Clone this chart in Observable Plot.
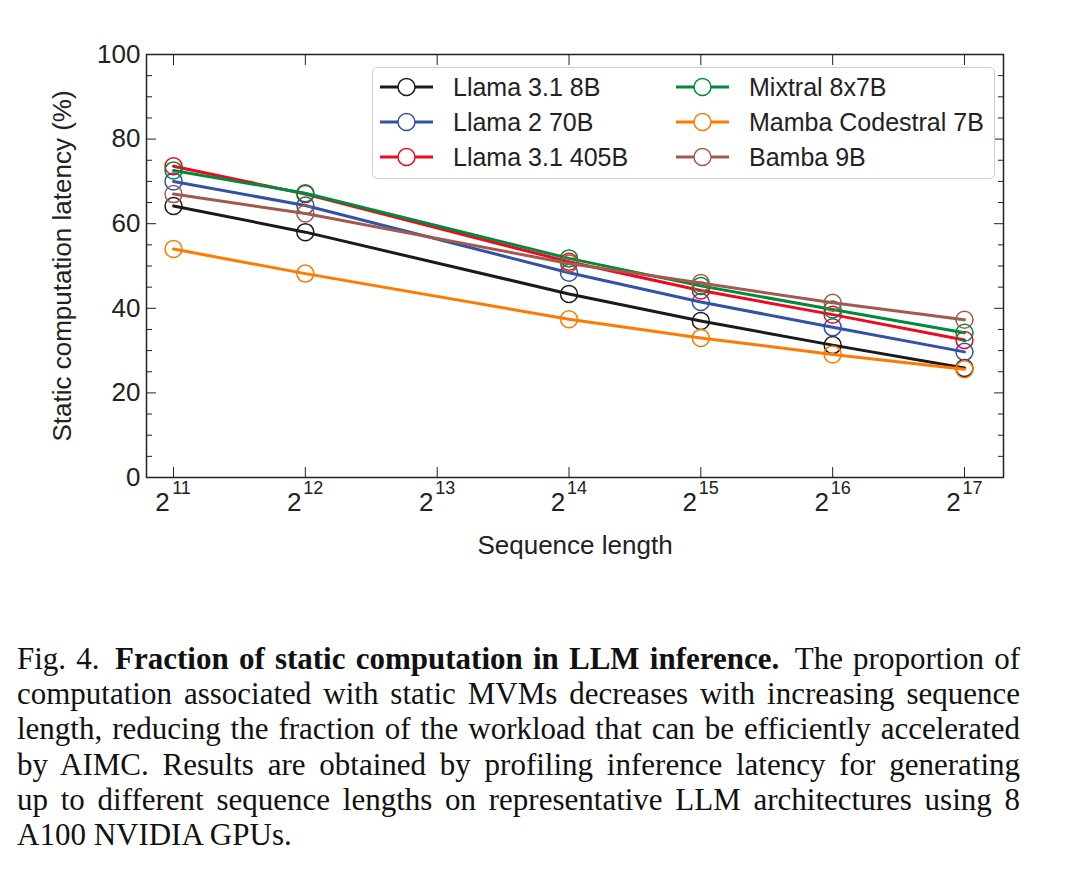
<!DOCTYPE html>
<html><head><meta charset="utf-8">
<script src="https://cdn.jsdelivr.net/npm/d3@7"></script>
<script src="https://cdn.jsdelivr.net/npm/@observablehq/plot@0.6"></script>
<style>
body{margin:0;background:#fff;width:1068px;height:896px;position:relative;overflow:hidden;font-family:"Liberation Sans",Arial,sans-serif;}
#chart{position:absolute;left:0;top:0;}
#legend{position:absolute;left:372px;top:67px;width:623px;height:112px;border:1.5px solid #d0d0d0;border-radius:5px;box-sizing:border-box;background:rgba(255,255,255,0.85);}
.item{position:absolute;height:30px;display:flex;align-items:center;font-size:25px;color:#222;white-space:nowrap;}
.item svg{margin-right:19px;}
#caption{position:absolute;left:17px;top:641px;width:1003px;font-family:"Liberation Serif","Times New Roman",serif;font-size:31px;line-height:35.2px;color:#111;}
.ln{text-align:justify;text-align-last:justify;white-space:nowrap;}
.ln.last{text-align-last:left;}
</style></head>
<body>
<div id="chart"></div>
<div id="legend"></div>
<div id="caption">
<div class="ln">Fig. 4.&ensp;<b>Fraction of static computation in LLM inference.</b>&ensp;The proportion of</div>
<div class="ln">computation associated with static MVMs decreases with increasing sequence</div>
<div class="ln">length, reducing the fraction of the workload that can be efficiently accelerated</div>
<div class="ln">by AIMC. Results are obtained by profiling inference latency for generating</div>
<div class="ln">up to different sequence lengths on representative LLM architectures using 8</div>
<div class="ln last">A100 NVIDIA GPUs.</div>
</div>
<script>
// ---- data ----
const seqLengths = [2048, 4096, 16384, 32768, 65536, 131072];
const models = ["Llama 3.1 8B", "Llama 2 70B", "Llama 3.1 405B", "Mixtral 8x7B", "Mamba Codestral 7B", "Bamba 9B"];
const colors = ["#1a1a1a", "#3152a8", "#f0081f", "#008a3c", "#ff7a00", "#a35a4e"];
const llama31_8b   = [64.2, 58.0, 43.4, 37.0, 31.3, 25.9];
const llama2_70b   = [70.0, 64.3, 48.4, 41.5, 35.5, 29.7];
const llama31_405b = [73.6, 67.0, 51.0, 44.2, 38.5, 32.5];
const mixtral      = [72.6, 67.2, 51.8, 45.3, 39.7, 34.2];
const mamba        = [54.0, 48.2, 37.4, 33.0, 29.1, 25.6];
const bamba        = [67.0, 62.4, 50.6, 46.0, 41.3, 37.3];
const series = [llama31_8b, llama2_70b, llama31_405b, mixtral, mamba, bamba];
const xExponents = [11, 12, 13, 14, 15, 16, 17];
const yMajor = [0, 20, 40, 60, 80, 100];
const yMinor = [5, 10, 15, 25, 30, 35, 45, 50, 55, 65, 70, 75, 85, 90, 95];

const xTicks = xExponents.map(e => 2 ** e);
const ink = "#222";

const seriesMarks = series.flatMap((vals, i) => {
  const data = seqLengths.map((x, j) => ({x, y: vals[j]}));
  return [
    Plot.line(data, {x: "x", y: "y", stroke: colors[i], strokeWidth: 3}),
    Plot.dot(data, {x: "x", y: "y", r: 8.5, stroke: colors[i], strokeWidth: 1.5, fill: "none"})
  ];
});

const chart = Plot.plot({
  width: 1068, height: 570,
  marginLeft: 146, marginRight: 65, marginTop: 54, marginBottom: 93,
  style: {fontFamily: "Liberation Sans, Arial, sans-serif", fontSize: "26px", color: ink, background: "white"},
  x: {type: "log", base: 2, domain: [2 ** 10.795, 2 ** 17.296]},
  y: {domain: [0, 100]},
  marks: [
    // inward ticks on all sides
    Plot.axisX({anchor: "bottom", ticks: xTicks, tickSize: -10, fill: "none", label: null, stroke: ink}),
    Plot.axisX({anchor: "top", ticks: xTicks, tickSize: -10, fill: "none", label: null, stroke: ink}),
    Plot.axisY({anchor: "left", ticks: yMajor, tickSize: -10, fill: "none", label: null, stroke: ink}),
    Plot.axisY({anchor: "left", ticks: yMinor, tickSize: -6, fill: "none", label: null, stroke: ink}),
    Plot.axisY({anchor: "right", ticks: yMajor, tickSize: -10, fill: "none", label: null, stroke: ink}),
    Plot.axisY({anchor: "right", ticks: yMinor, tickSize: -6, fill: "none", label: null, stroke: ink}),
    // tick labels
    Plot.axisY({anchor: "left", ticks: yMajor, tickSize: 0, tickPadding: 6, fontSize: 26, fill: ink,
      label: "Static computation latency (%)", labelAnchor: "center", labelOffset: 94, labelArrow: false}),
    Plot.axisX({anchor: "bottom", ticks: xTicks, tickSize: 0, tickPadding: 15, fontSize: 26, fill: ink,
      tickFormat: () => "2", dx: -11,
      label: "Sequence length", labelAnchor: "center", labelOffset: 76, labelArrow: false}),
    Plot.axisX({anchor: "bottom", ticks: xTicks, tickSize: 0, tickPadding: 4, fontSize: 18, fill: ink,
      tickFormat: d => String(Math.round(Math.log2(d))), dx: 8, label: null}),
    ...seriesMarks,
    Plot.frame({stroke: ink, strokeWidth: 1.5})
  ]
});
document.getElementById("chart").append(chart);

// ---- legend ----
const legend = document.getElementById("legend");
const colLeft = [5, 301];
const rowTop = [4, 39, 74];
models.forEach((m, i) => {
  const col = Math.floor(i / 3), row = i % 3;
  const div = document.createElement("div");
  div.className = "item";
  div.style.left = colLeft[col] + "px";
  div.style.top = rowTop[row] + "px";
  div.innerHTML = `<svg width="56" height="30"><line x1="2" x2="55" y1="15" y2="15" stroke="${colors[i]}" stroke-width="3"/><circle cx="28.5" cy="15" r="8.5" fill="white" stroke="${colors[i]}" stroke-width="1.5"/></svg><span>${m}</span>`;
  legend.append(div);
});
</script>
</body></html>
